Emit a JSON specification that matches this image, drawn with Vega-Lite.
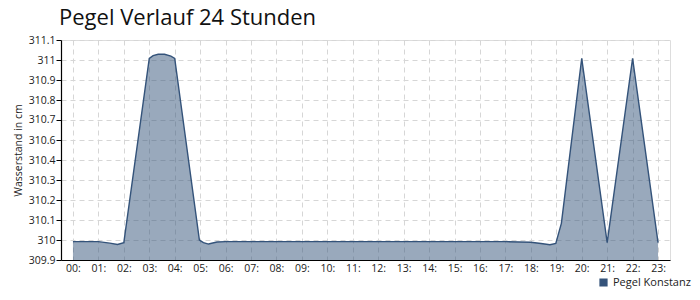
{
  "$schema": "https://vega.github.io/schema/vega-lite/v6.json",
  "width": 609,
  "height": 220,
  "autosize": {"type": "none"},
  "padding": {"left": 61, "top": 40, "right": 30, "bottom": 40},
  "background": "white",
  "title": {
    "text": "Pegel Verlauf 24 Stunden",
    "anchor": "start",
    "frame": "group",
    "offset": 5,
    "dx": -2,
    "font": "Open Sans",
    "fontSize": 22,
    "fontWeight": "normal",
    "color": "#111111"
  },
  "config": {
    "view": {"stroke": "#dddddd", "strokeWidth": 1},
    "font": "Open Sans",
    "axis": {
      "labelFont": "Open Sans",
      "labelFontSize": 10.5,
      "labelColor": "#222222",
      "titleFont": "Open Sans",
      "titleFontSize": 10.5,
      "titleFontWeight": "normal",
      "titleColor": "#222222",
      "domainColor": "#000000",
      "domainWidth": 1.2,
      "gridColor": "#d6d6d6",
      "gridDash": [5, 4],
      "gridWidth": 1
    }
  },
  "data": {
    "values": [
      {"h": 0, "v": 310.0, "series": "Pegel Konstanz"},
      {"h": 1, "v": 310.0, "series": "Pegel Konstanz"},
      {"h": 1.45, "v": 309.992, "series": "Pegel Konstanz"},
      {"h": 1.75, "v": 309.985, "series": "Pegel Konstanz"},
      {"h": 2, "v": 309.995, "series": "Pegel Konstanz"},
      {"h": 3, "v": 311.0, "series": "Pegel Konstanz"},
      {"h": 3.15, "v": 311.015, "series": "Pegel Konstanz"},
      {"h": 3.35, "v": 311.022, "series": "Pegel Konstanz"},
      {"h": 3.6, "v": 311.022, "series": "Pegel Konstanz"},
      {"h": 3.85, "v": 311.012, "series": "Pegel Konstanz"},
      {"h": 4, "v": 311.0, "series": "Pegel Konstanz"},
      {"h": 4.97, "v": 310.009, "series": "Pegel Konstanz"},
      {"h": 5.13, "v": 309.995, "series": "Pegel Konstanz"},
      {"h": 5.33, "v": 309.987, "series": "Pegel Konstanz"},
      {"h": 5.66, "v": 309.998, "series": "Pegel Konstanz"},
      {"h": 6, "v": 310.0, "series": "Pegel Konstanz"},
      {"h": 7, "v": 310.0, "series": "Pegel Konstanz"},
      {"h": 8, "v": 310.0, "series": "Pegel Konstanz"},
      {"h": 9, "v": 310.0, "series": "Pegel Konstanz"},
      {"h": 10, "v": 310.0, "series": "Pegel Konstanz"},
      {"h": 11, "v": 310.0, "series": "Pegel Konstanz"},
      {"h": 12, "v": 310.0, "series": "Pegel Konstanz"},
      {"h": 13, "v": 310.0, "series": "Pegel Konstanz"},
      {"h": 14, "v": 310.0, "series": "Pegel Konstanz"},
      {"h": 15, "v": 310.0, "series": "Pegel Konstanz"},
      {"h": 16, "v": 310.0, "series": "Pegel Konstanz"},
      {"h": 17, "v": 310.0, "series": "Pegel Konstanz"},
      {"h": 18, "v": 309.997, "series": "Pegel Konstanz"},
      {"h": 18.4, "v": 309.99, "series": "Pegel Konstanz"},
      {"h": 18.75, "v": 309.983, "series": "Pegel Konstanz"},
      {"h": 18.98, "v": 309.99, "series": "Pegel Konstanz"},
      {"h": 19.2, "v": 310.1, "series": "Pegel Konstanz"},
      {"h": 20, "v": 311.0, "series": "Pegel Konstanz"},
      {"h": 21, "v": 309.995, "series": "Pegel Konstanz"},
      {"h": 22, "v": 311.0, "series": "Pegel Konstanz"},
      {"h": 23, "v": 309.995, "series": "Pegel Konstanz"}
    ]
  },
  "mark": {
    "type": "area",
    "fillOpacity": 0.5,
    "line": {"strokeWidth": 1.4},
    "interpolate": "linear"
  },
  "encoding": {
    "x": {
      "field": "h",
      "type": "quantitative",
      "scale": {"domain": [-0.47, 23.47], "nice": false, "zero": false},
      "axis": {
        "title": null,
        "values": [0,1,2,3,4,5,6,7,8,9,10,11,12,13,14,15,16,17,18,19,20,21,22,23],
        "labelExpr": "(datum.value < 10 ? '0' : '') + datum.value + ':'",
        "ticks": false,
        "labelPadding": 3,
        "labelFlush": false,
        "labelOverlap": false
      }
    },
    "y": {
      "field": "v",
      "type": "quantitative",
      "scale": {"domain": [309.9, 311.1], "nice": false, "zero": false},
      "axis": {
        "title": "Wasserstand in cm",
        "values": [309.9, 310.0090909, 310.1181818, 310.2272727, 310.3363636, 310.4454545, 310.5545455, 310.6636364, 310.7727273, 310.8818182, 310.9909091, 311.1],
        "format": ".4~r",
        "tickSize": 5,
        "tickColor": "#000000",
        "labelPadding": 1,
        "labelFlush": false,
        "labelOverlap": false,
        "titleX": -38,
        "titleY": 110
      }
    },
    "y2": {"datum": 309.9},
    "color": {
      "field": "series",
      "type": "nominal",
      "scale": {"range": ["#34537a"]},
      "legend": {
        "title": null,
        "orient": "none",
        "legendX": 537,
        "legendY": 237,
        "symbolType": "square",
        "symbolSize": 45,
        "symbolOpacity": 1,
        "labelFontSize": 11,
        "labelColor": "#222222",
        "labelFont": "Open Sans"
      }
    }
  }
}
